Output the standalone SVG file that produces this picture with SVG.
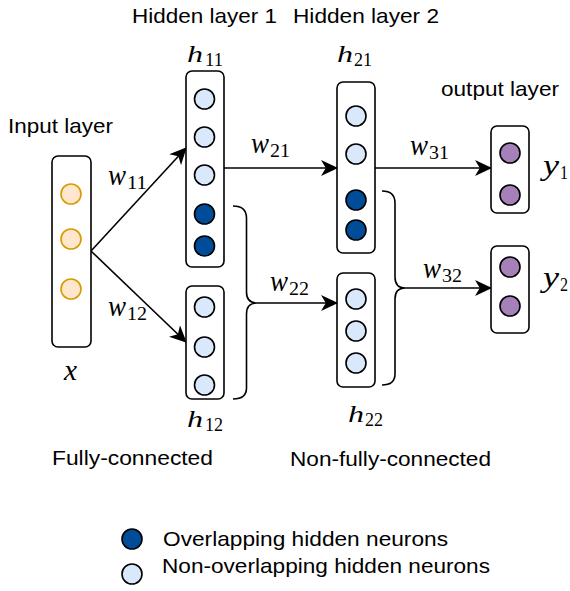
<svg xmlns="http://www.w3.org/2000/svg" width="570" height="591" viewBox="0 0 570 591">
<style>
.box{fill:#fff;stroke:#000;stroke-width:1.6}
.in{fill:#ffe6cc;stroke:#d79b00;stroke-width:1.6}
.lt{fill:#dae8fc;stroke:#000;stroke-width:1.6}
.dk{fill:#004c99;stroke:#000;stroke-width:1.6}
.pu{fill:#a680b8;stroke:#000;stroke-width:1.6}
.ln{fill:none;stroke:#000;stroke-width:1.6}
.t{font-family:"Liberation Sans",Arial,sans-serif;font-size:21px;fill:#000}
.m{font-family:"Liberation Serif","Times New Roman",serif;font-style:italic;font-size:29px;fill:#000}
.mh{font-family:"Liberation Serif","Times New Roman",serif;font-style:italic;font-size:24px;fill:#000}
.s{font-family:"Liberation Serif","Times New Roman",serif;font-size:18px;fill:#000}
</style>
<defs>
<marker id="arr" markerUnits="userSpaceOnUse" markerWidth="18" markerHeight="16" viewBox="0 0 16 15" refX="15" refY="7.5" orient="auto">
<path d="M0,0 L16,7.5 L0,15 L4.5,7.5 Z" fill="#000"/>
</marker>
</defs>
<rect width="570" height="591" fill="#fff"/>

<g id="connectors">
<path class="ln" d="M91,251 L186,148" marker-end="url(#arr)"/>
<path class="ln" d="M91,251 L186,342" marker-end="url(#arr)"/>
<path class="ln" d="M224,168 L337,168" marker-end="url(#arr)"/>
<path class="ln" d="M375,168 L491,168" marker-end="url(#arr)"/>
<path class="ln" d="M233,206 Q246.5,206 246.5,218 L246.5,292 Q246.5,303 257,303 Q246.5,303 246.5,314 L246.5,388 Q246.5,399 233,399"/>
<path class="ln" d="M257,303 L337,303" marker-end="url(#arr)"/>
<path class="ln" d="M382,191 Q395,191 395,203 L395,277 Q395,288 405,288 Q395,288 395,299 L395,374 Q395,385 382,385"/>
<path class="ln" d="M405,288 L491,288" marker-end="url(#arr)"/>
</g>

<g id="input">
<rect class="box" x="52" y="156" width="39" height="191" rx="6"/>
<circle class="in" cx="71" cy="194" r="10"/>
<circle class="in" cx="71" cy="239" r="10"/>
<circle class="in" cx="71" cy="289" r="10"/>
</g>

<g id="h11">
<rect class="box" x="186" y="71" width="38" height="196" rx="6"/>
<circle class="lt" cx="204.5" cy="99" r="10"/>
<circle class="lt" cx="204.5" cy="137" r="10"/>
<circle class="lt" cx="204.5" cy="175" r="10"/>
<circle class="dk" cx="204.5" cy="214" r="10"/>
<circle class="dk" cx="204.5" cy="246" r="10"/>
</g>

<g id="h12">
<rect class="box" x="186" y="286" width="38" height="113" rx="6"/>
<circle class="lt" cx="204.5" cy="307" r="10"/>
<circle class="lt" cx="204.5" cy="347" r="10"/>
<circle class="lt" cx="204.5" cy="385" r="10"/>
</g>

<g id="h21">
<rect class="box" x="337" y="82" width="38" height="171" rx="6"/>
<circle class="lt" cx="356" cy="116" r="10"/>
<circle class="lt" cx="356" cy="154" r="10"/>
<circle class="dk" cx="356" cy="200" r="10"/>
<circle class="dk" cx="356" cy="230" r="10"/>
</g>

<g id="h22">
<rect class="box" x="337" y="273" width="38" height="114" rx="6"/>
<circle class="lt" cx="356" cy="299" r="10"/>
<circle class="lt" cx="356" cy="331" r="10"/>
<circle class="lt" cx="356" cy="363" r="10"/>
</g>

<g id="y1">
<rect class="box" x="491" y="126" width="38" height="87" rx="6"/>
<circle class="pu" cx="510" cy="153" r="10"/>
<circle class="pu" cx="510" cy="195" r="10"/>
</g>

<g id="y2">
<rect class="box" x="491" y="246" width="38" height="87" rx="6"/>
<circle class="pu" cx="510" cy="267" r="10"/>
<circle class="pu" cx="510" cy="306" r="10"/>
</g>

<g id="labels">
<text class="t" x="132" y="23" textLength="145" lengthAdjust="spacingAndGlyphs">Hidden layer 1</text>
<text class="t" x="293" y="23" textLength="146" lengthAdjust="spacingAndGlyphs">Hidden layer 2</text>
<text class="t" x="8" y="133" textLength="105" lengthAdjust="spacingAndGlyphs">Input layer</text>
<text class="t" x="441" y="96" textLength="118" lengthAdjust="spacingAndGlyphs">output layer</text>
<text class="t" x="52" y="465" textLength="161" lengthAdjust="spacingAndGlyphs">Fully-connected</text>
<text class="t" x="290" y="466" textLength="201" lengthAdjust="spacingAndGlyphs">Non-fully-connected</text>

<text class="mh" x="187" y="62" textLength="16" lengthAdjust="spacingAndGlyphs">h</text><text class="s" x="205" y="66" textLength="18" lengthAdjust="spacingAndGlyphs">11</text>
<text class="mh" x="337" y="62" textLength="16" lengthAdjust="spacingAndGlyphs">h</text><text class="s" x="354" y="66" textLength="18" lengthAdjust="spacingAndGlyphs">21</text>
<text class="mh" x="187" y="427" textLength="16" lengthAdjust="spacingAndGlyphs">h</text><text class="s" x="205" y="431" textLength="18" lengthAdjust="spacingAndGlyphs">12</text>
<text class="mh" x="348" y="422" textLength="16" lengthAdjust="spacingAndGlyphs">h</text><text class="s" x="365" y="426" textLength="18" lengthAdjust="spacingAndGlyphs">22</text>

<text class="m" x="108" y="185" textLength="18" lengthAdjust="spacingAndGlyphs">w</text><text class="s" x="127" y="189" textLength="20" lengthAdjust="spacingAndGlyphs">11</text>
<text class="m" x="108" y="316" textLength="18" lengthAdjust="spacingAndGlyphs">w</text><text class="s" x="127" y="320" textLength="20" lengthAdjust="spacingAndGlyphs">12</text>
<text class="m" x="251" y="153" textLength="18" lengthAdjust="spacingAndGlyphs">w</text><text class="s" x="270" y="157" textLength="20" lengthAdjust="spacingAndGlyphs">21</text>
<text class="m" x="270" y="291" textLength="18" lengthAdjust="spacingAndGlyphs">w</text><text class="s" x="289" y="295" textLength="20" lengthAdjust="spacingAndGlyphs">22</text>
<text class="m" x="410" y="155" textLength="18" lengthAdjust="spacingAndGlyphs">w</text><text class="s" x="429" y="159" textLength="20" lengthAdjust="spacingAndGlyphs">31</text>
<text class="m" x="423" y="278" textLength="18" lengthAdjust="spacingAndGlyphs">w</text><text class="s" x="442" y="282" textLength="20" lengthAdjust="spacingAndGlyphs">32</text>

<text class="m" x="64" y="380" textLength="13" lengthAdjust="spacingAndGlyphs">x</text>
<text class="m" x="543" y="175" textLength="16" lengthAdjust="spacingAndGlyphs">y</text><text class="s" x="560" y="179" textLength="8" lengthAdjust="spacingAndGlyphs">1</text>
<text class="m" x="543" y="287" textLength="16" lengthAdjust="spacingAndGlyphs">y</text><text class="s" x="560" y="291" textLength="8" lengthAdjust="spacingAndGlyphs">2</text>
</g>

<g id="legend">
<circle class="dk" cx="132" cy="539" r="10"/>
<text class="t" x="163" y="546" textLength="285" lengthAdjust="spacingAndGlyphs">Overlapping hidden neurons</text>
<circle class="lt" cx="132" cy="574" r="10"/>
<text class="t" x="162" y="573" textLength="328" lengthAdjust="spacingAndGlyphs">Non-overlapping hidden neurons</text>
</g>
</svg>
